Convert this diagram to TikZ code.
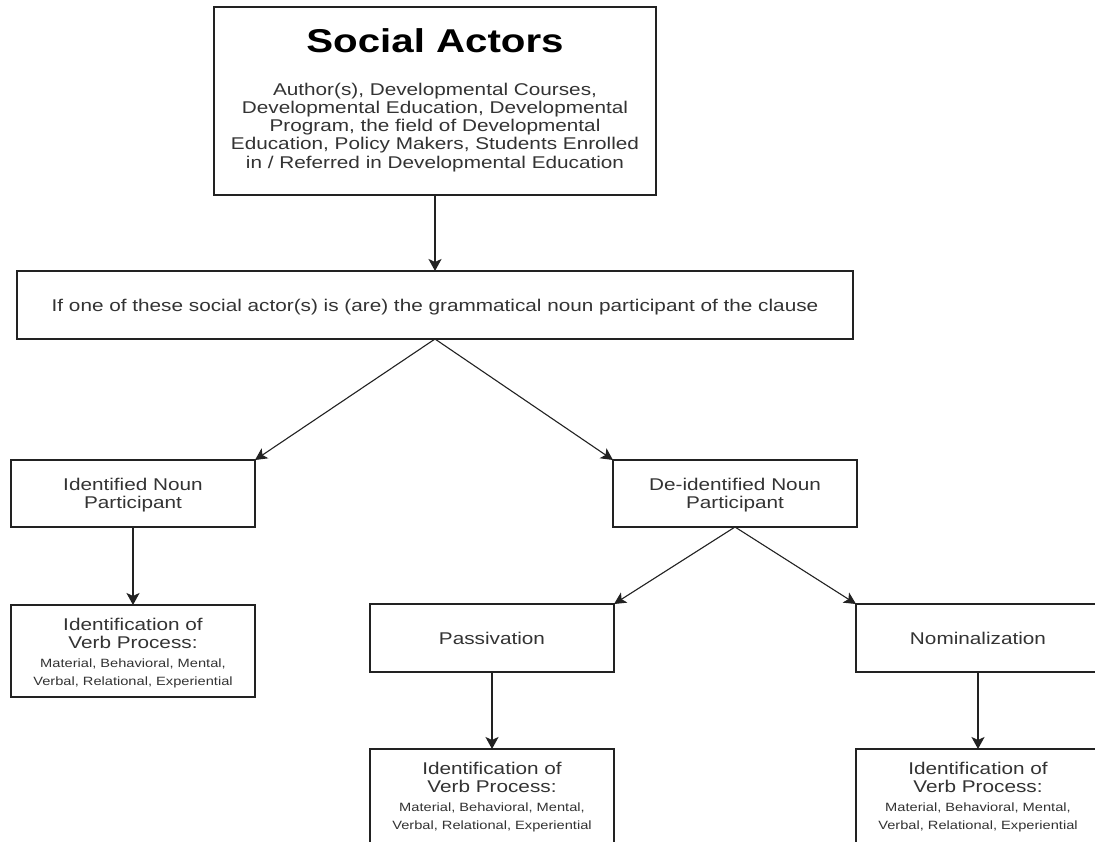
\documentclass[tikz,border=0pt]{standalone}
\usepackage{fontspec}
\setmainfont{Liberation Sans}[FakeStretch=1.22]
\usetikzlibrary{arrows.meta}
\definecolor{txtgray}{HTML}{333333}
\definecolor{linegray}{HTML}{222222}
\newcommand\vpbox[4]{%
  \node[box, minimum height=#4pt, anchor=north] (#1) at (#2,#3) {};
  \node[txt] (#1a) at (#2,#3+25) {Identification of};
  \node[txt] (#1b) at (#2,#3+43) {Verb Process:};
  \node[smalltxt] (#1c) at (#2,#3+62) {Material, Behavioral, Mental,};
  \node[smalltxt] (#1d) at (#2,#3+80) {Verbal, Relational, Experiential};
}
\begin{document}
\begin{tikzpicture}[x=1pt,y=-1pt,
  box/.style={draw=linegray, line width=1.3pt, minimum width=244pt, inner sep=0pt, outer sep=0pt},
  txt/.style={anchor=base, inner sep=0pt, text=txtgray, font=\fontsize{17}{20}\selectfont},
  smalltxt/.style={anchor=base, inner sep=0pt, text=txtgray, font=\fontsize{12}{14}\selectfont},
  arr/.style={draw=linegray, line width=1.1pt, -{Stealth[length=12pt,width=12pt,inset=3pt]}},
  varr/.style={arr, line width=1.9pt, -{Stealth[length=12pt,width=13pt,inset=3pt]}}]
\path[use as bounding box] (0,0) rectangle (1095,841);
\clip (0,0) rectangle (1095,841);
\fill[white] (0,0) rectangle (1095,841);

% Social actors box
\node[box, minimum width=442pt, minimum height=188pt] (sa) at (435,101) {};
\node[anchor=base, inner sep=0pt, text=black, font=\fontsize{33}{36}\selectfont\bfseries] (title) at (435,52) {Social Actors};
\foreach \t [count=\i] in {{Author(s), Developmental Courses,},
  {Developmental Education, Developmental},
  {Program, the field of Developmental},
  {Education, Policy Makers, Students Enrolled},
  {in / Referred in Developmental Education}}
  {\node[txt] (sa\i) at (435,{95+18.25*(\i-1)}) {\t};}

% Question box
\node[box, minimum width=836pt, minimum height=68pt] (q) at (435,305) {};
\node[txt] (qt) at (435,311) {If one of these social actor(s) is (are) the grammatical noun participant of the clause};

% Identified / De-identified
\node[box, minimum height=67pt] (idn) at (133,493.5) {};
\node[txt] (idn1) at (133,490) {Identified Noun};
\node[txt] (idn2) at (133,508) {Participant};
\node[box, minimum height=67pt] (deid) at (735,493.5) {};
\node[txt] (deid1) at (735,490) {De-identified Noun};
\node[txt] (deid2) at (735,508) {Participant};

% Passivation / Nominalization
\node[box, minimum height=68pt] (pas) at (492,638) {};
\node[txt] (past) at (492,644) {Passivation};
\node[box, minimum height=68pt] (nom) at (978,638) {};
\node[txt] (nomt) at (978,644) {Nominalization};

% Verb process boxes
\vpbox{vpa}{133}{605}{92}
\vpbox{vpb}{492}{749}{100}
\vpbox{vpc}{978}{749}{100}

% Connectors
\draw[varr] (sa.south) -- (q.north);
\draw[arr] (q.south) -- (idn.north east);
\draw[arr] (q.south) -- (deid.north west);
\draw[varr] (idn.south) -- (vpa.north);
\draw[arr] (deid.south) -- (pas.north east);
\draw[arr] (deid.south) -- (nom.north west);
\draw[varr] (pas.south) -- (vpb.north);
\draw[varr] (nom.south) -- (vpc.north);
\end{tikzpicture}
\end{document}
